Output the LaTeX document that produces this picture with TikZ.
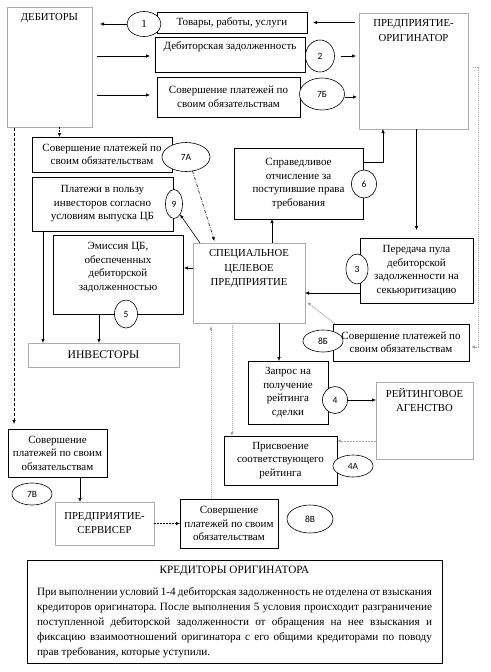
\documentclass[tikz,border=0pt]{standalone}
\usepackage{fontspec}
\setmainfont{Liberation Serif}
\newfontfamily\lblfont{Carlito}
\usetikzlibrary{arrows.meta,shapes.geometric}
\begin{document}
\begin{tikzpicture}[x=1pt,y=-1pt,
 every node/.style={inner sep=0pt, outer sep=0pt},
 bx/.style={draw=black, line width=0.6pt, align=center, font=\fontsize{11}{13.5}\selectfont, anchor=north west},
 gbx/.style={bx, draw=gray!65},
 tx/.style={align=center, font=\fontsize{11}{13.5}\selectfont},
 tt/.style={align=center, font=\fontsize{10.7}{14.5}\selectfont},
 ell/.style={draw=black, line width=0.6pt, ellipse, fill=white, font=\lblfont\fontsize{9.5}{10}\selectfont},
 tip/.style={-{Latex[length=4pt,width=3.4pt]}},
 arr/.style={tip, line width=0.6pt, draw=black},
 dsh/.style={arr, dash pattern=on 2pt off 1pt},
 ldsh/.style={arr, dash pattern=on 3pt off 2pt},
 gdot/.style={arr, draw=gray!70, line width=0.9pt, dash pattern=on 1.2pt off 0.8pt},
 gdsh/.style={arr, draw=gray!70, line width=0.9pt, dash pattern=on 2pt off 1pt},
 dshdot/.style={arr, dash pattern=on 3pt off 1.5pt on 0.8pt off 1.5pt}
]
\useasboundingbox (0,0) rectangle (490,672);

% boxes
\node[gbx, minimum width=85, minimum height=120] (deb) at (7,7) {};
\node[tt] at ([yshift=-11pt]deb.north) {ДЕБИТОРЫ};
\node[bx, minimum width=150, minimum height=21] (tov) at (157,12) {Товары, работы, услуги};
\node[bx, minimum width=150, minimum height=35] (dz) at (155,37) {};
\node[tx] at ([yshift=-10pt]dz.north) {Дебиторская задолженность};
\node[bx, minimum width=143, minimum height=40] (p7b) at (157,77) {Совершение платежей по\\своим обязательствам};
\node[gbx, minimum width=109, minimum height=116] (orig) at (359,13) {};
\node[tt] at ([yshift=-17.5pt]orig.north) {ПРЕДПРИЯТИЕ-\\ОРИГИНАТОР};
\node[bx, minimum width=140, minimum height=35] (p7a) at (32,137) {Совершение платежей по\\своим обязательствам};
\node[bx, minimum width=141, minimum height=54] (p9) at (32,177) {Платежи в пользу\\инвесторов согласно\\условиям выпуска ЦБ};
\node[bx, minimum width=130, minimum height=79] (emis) at (53,235) {};
\node[tx] at ([yshift=-32.5pt]emis.north) {Эмиссия ЦБ,\\обеспеченных\\дебиторской\\задолженностью};
\node[bx, minimum width=129, minimum height=71] (spr) at (234,148) {Справедливое\\отчисление за\\поступившие права\\требования};
\node[gbx, minimum width=112, minimum height=80] (spv) at (193,243) {};
\node[tt] at ([yshift=-26pt]spv.north) {СПЕЦИАЛЬНОЕ\\ЦЕЛЕВОЕ\\ПРЕДПРИЯТИЕ};
\node[bx, minimum width=113, minimum height=65] (per) at (360,238) {Передача пула\\дебиторской\\задолженности на\\секьюритизацию};
\node[gbx, minimum width=151, minimum height=24, font=\fontsize{11.7}{13}\selectfont] (inv) at (28,343) {ИНВЕСТОРЫ};
\node[bx, minimum width=136, minimum height=37] (p8b) at (333,324) {Совершение платежей по\\своим обязательствам};
\node[bx, minimum width=80, minimum height=63] (zap) at (248,361) {Запрос на\\получение\\рейтинга\\сделки};
\node[gbx, minimum width=97, minimum height=77] (rat) at (376,382) {};
\node[tt] at ([yshift=-18pt]rat.north) {РЕЙТИНГОВОЕ\\АГЕНСТВО};
\node[bx, minimum width=113, minimum height=49] (prisv) at (224,436) {Присвоение\\соответствующего\\рейтинга};
\node[bx, minimum width=99, minimum height=48] (p7v) at (8,429) {Совершение\\платежей по своим\\обязательствам};
\node[gbx, minimum width=99, minimum height=43, font=\fontsize{10.7}{14}\selectfont] (serv) at (55,502) {ПРЕДПРИЯТИЕ-\\СЕРВИСЕР};
\node[bx, minimum width=98, minimum height=49] (p8v) at (180,499) {Совершение\\платежей по своим\\обязательствам};
\node[bx, minimum width=415, minimum height=103, text width=395pt, align=justify, font=\fontsize{11.2}{15}\selectfont] (kred) at (27,560)
 {\frenchspacing\hyphenpenalty=10000\parindent=0pt{\centering КРЕДИТОРЫ ОРИГИНАТОРА\par}\vspace{7pt}%
 При выполнении условий 1-4 дебиторская задолженность не отделена от взыскания\linebreak
 кредиторов оригинатора. После выполнения 5 условия происходит разграничение\linebreak
 поступленной дебиторской задолженности от обращения на нее взыскания и\linebreak
 фиксацию взаимоотношений оригинатора с его общими кредиторами по поводу\linebreak
 прав требования, которые уступили.};

% connectors
\draw[arr, shorten <=4pt, shorten >=6pt] (orig.west |- tov.east) -- (tov.east);
\draw[arr, shorten >=8pt] (144,24) ++(-17,0) coordinate (c1w) -- (deb.east |- c1w);
\draw[arr, shorten <=5pt, shorten >=5pt] ([yshift=-1.5pt]deb.east |- dz.east) -- ([yshift=-1.5pt]dz.west);
\draw[arr, shorten <=5pt, shorten >=7pt] ([yshift=2pt]deb.east |- p7b.east) -- ([yshift=2pt]p7b.west);
\draw[dsh, shorten >=0pt] ([xshift=10pt]deb.south) -- ([xshift=10pt]deb.south |- p7a.north);
\draw[ldsh, shorten <=1pt, shorten >=5pt] ([xshift=-35.5pt]deb.south) -- ([xshift=-35.5pt]deb.south |- p7v.north);
\draw[arr] ([xshift=22.5pt]p7v.south) -- ([xshift=22.5pt]p7v.south |- serv.north);
\draw[dsh] (serv.east) -- (p8v.west |- serv.east);
\draw[gdot, shorten >=3pt] ([xshift=-18pt]p8v.north) -- ([xshift=-18pt]p8v.north |- spv.south);
\draw[gdot] ([xshift=-17pt]spv.south) -- ([xshift=-17pt]spv.south |- prisv.north);
\draw[arr] ([xshift=30pt]spv.south) -- ([xshift=30pt]spv.south |- zap.north);
\draw[gdsh] ([yshift=-20.5pt]rat.west) -- ([yshift=-20.5pt]rat.west -| prisv.east);
\draw[arr] ([xshift=23pt]spv.north) -- ([xshift=23pt]spv.north |- spr.south);
\draw[arr] ([yshift=21.5pt]spr.east) -| ([xshift=-30.5pt]orig.south);
\draw[arr, shorten >=8pt] (orig.south -| per.north) -- (per.north);
\draw[arr] ([yshift=-22.5pt]per.west) -- ([yshift=-22.5pt]per.west -| spv.east);
\draw[arr, shorten >=1pt] ([yshift=15pt]spv.west) -- ([yshift=15pt]spv.west -| emis.east);
\draw[arr] ([xshift=-19pt]emis.south) -- ([xshift=-19pt]emis.south |- inv.north);
\draw[arr] ([xshift=-59.5pt]p9.south) -- ([xshift=-59.5pt]p9.south |- inv.north);
\draw[gdot] ([xshift=2pt]p8b.north west) -- ([shift={(2pt,21pt)}]spv.south east);
\draw[gdot] ([shift={(5pt,4pt)}]orig.east) -- ++(5,0) |- ([shift={(2pt,-4.5pt)}]p8b.east);

% labels
\node[ell, minimum width=34, minimum height=25, font=\fontsize{11}{12}\selectfont] (c1) at (144,24) {1};
\node[ell, minimum width=29, minimum height=32] (c2) at (320,56) {2};
\node[ell, minimum width=45, minimum height=32] (c7b) at (322,94) {7Б};
\node[ell, minimum width=48, minimum height=29] (c7a) at (186,157) {7А};
\node[ell, minimum width=17, minimum height=29] (c9) at (174,204) {9};
\node[ell, minimum width=25, minimum height=28] (c6) at (364,184) {6};
\node[ell, minimum width=22, minimum height=30] (c3) at (357,269) {3};
\node[ell, minimum width=23, minimum height=28] (c5) at (126,314) {5};
\node[ell, minimum width=40, minimum height=22] (c8b) at (323,341) {8Б};
\node[ell, minimum width=25, minimum height=27] (c4) at (335,400) {4};
\node[ell, minimum width=40, minimum height=22] (c4a) at (353,466) {4А};
\node[ell, minimum width=46, minimum height=28] (c8v) at (310,519) {8В};
\node[ell, minimum width=40, minimum height=22] (c7v) at (32,494) {7В};

\draw[arr, shorten <=6pt, shorten >=3pt] (c2.east) -- (orig.west |- c2.east);
\draw[arr, shorten >=2pt] ([yshift=-3pt]c7b.east) -- ([yshift=-3pt]orig.west |- c7b.east);
\draw[arr] (c4.east) -- (rat.west |- c4.east);
\draw[arr] ([xshift=7pt]spv.north west) -- (c9.-60);
\draw[dshdot, shorten >=2pt] (c7a.-65) -- ([xshift=22pt]spv.north west);
\end{tikzpicture}
\end{document}
